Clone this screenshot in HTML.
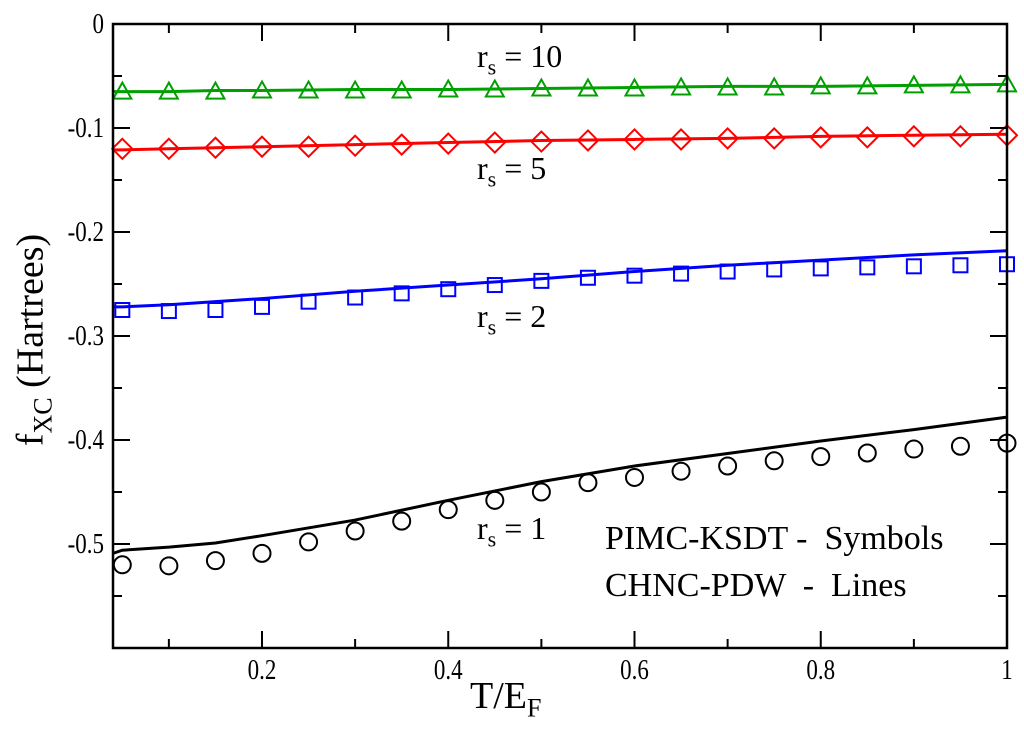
<!DOCTYPE html>
<html><head><meta charset="utf-8"><style>
html,body{margin:0;padding:0;background:#fff;}
svg{display:block;font-family:"Liberation Serif",serif;}
</style></head><body>
<svg id="chart" width="1024" height="740" viewBox="0 0 1024 740" xmlns="http://www.w3.org/2000/svg">
<g id="marks"></g>
<g id="axes"></g>
</svg>
<script>
const xs = [0.05,0.1,0.15,0.2,0.25,0.3,0.35,0.4,0.45,0.5,0.55,0.6,0.65,0.7,0.75,0.8,0.85,0.9,0.95,1.0];
const symRs10 = [-0.065,-0.065,-0.065,-0.064,-0.064,-0.064,-0.064,-0.063,-0.063,-0.062,-0.062,-0.062,-0.061,-0.061,-0.061,-0.060,-0.060,-0.059,-0.059,-0.058];
const symRs5 = [-0.120,-0.120,-0.119,-0.118,-0.118,-0.117,-0.116,-0.115,-0.114,-0.113,-0.112,-0.111,-0.111,-0.110,-0.110,-0.109,-0.109,-0.108,-0.108,-0.107];
const symRs2 = [-0.275,-0.276,-0.275,-0.272,-0.267,-0.263,-0.259,-0.255,-0.251,-0.247,-0.244,-0.242,-0.240,-0.238,-0.236,-0.235,-0.234,-0.233,-0.232,-0.231];
const symRs1 = [-0.520,-0.521,-0.516,-0.509,-0.498,-0.4875,-0.478,-0.467,-0.458,-0.450,-0.441,-0.436,-0.430,-0.425,-0.420,-0.416,-0.4125,-0.4087,-0.406,-0.403];
const lineX = [0.04,0.05,0.1,0.15,0.2,0.3,0.4,0.5,0.6,0.7,0.8,0.9,1.0];
const lineRs10 = [-0.065,-0.065,-0.065,-0.064,-0.064,-0.063,-0.063,-0.062,-0.061,-0.060,-0.060,-0.059,-0.058];
const lineRs5 = [-0.121,-0.121,-0.120,-0.119,-0.118,-0.116,-0.114,-0.112,-0.111,-0.110,-0.108,-0.107,-0.106];
const lineRs2 = [-0.272,-0.272,-0.270,-0.267,-0.264,-0.257,-0.251,-0.245,-0.238,-0.232,-0.227,-0.222,-0.218];
const lineRs1 = [-0.509,-0.506,-0.503,-0.499,-0.492,-0.477,-0.458,-0.440,-0.425,-0.413,-0.401,-0.390,-0.378];
const xTicks = [0.2,0.4,0.6,0.8,1];
const xTickLabels = ["0.2","0.4","0.6","0.8","1"];
const yTicks = [0,-0.1,-0.2,-0.3,-0.4,-0.5];
const yTickLabels = ["0","-0.1","-0.2","-0.3","-0.4","-0.5"];

const L=113,R=1007,T=24,B=648, X0=0.04,X1=1.0,Y0=-0.6,Y1=0;
const sx=v=>L+(v-X0)/(X1-X0)*(R-L);
const sy=v=>B-(v-Y0)/(Y1-Y0)*(B-T);
const NS="http://www.w3.org/2000/svg";
const marks=document.getElementById('marks'), axes=document.getElementById('axes');
function mk(tag,attrs,parent){const e=document.createElementNS(NS,tag);for(const k in attrs)e.setAttribute(k,attrs[k]);parent.appendChild(e);return e;}

const series=[
 {n:'rs10',c:'#00a000',sym:symRs10,line:lineRs10,shape:'tri'},
 {n:'rs5',c:'#ff0000',sym:symRs5,line:lineRs5,shape:'dia'},
 {n:'rs2',c:'#0000ff',sym:symRs2,line:lineRs2,shape:'sq'},
 {n:'rs1',c:'#000000',sym:symRs1,line:lineRs1,shape:'circ'}];
series.forEach(s=>{
  const p=mk('polyline',{points:lineX.map((x,i)=>sx(x)+','+sy(s.line[i])).join(' '),fill:'none',stroke:s.c,'stroke-width':3},marks);
  
  
  xs.forEach((x,i)=>{
    const cx=sx(x),cy=sy(s.sym[i]);let e;
    if(s.shape==='tri') e=mk('polygon',{points:`${cx},${cy-9} ${cx-9},${cy+7} ${cx+9},${cy+7}`,fill:'none',stroke:s.c,'stroke-width':2},marks);
    else if(s.shape==='dia') e=mk('polygon',{points:`${cx},${cy-10} ${cx+10},${cy} ${cx},${cy+10} ${cx-10},${cy}`,fill:'none',stroke:s.c,'stroke-width':2},marks);
    else if(s.shape==='sq') e=mk('rect',{x:cx-7,y:cy-7,width:14,height:14,fill:'none',stroke:s.c,'stroke-width':2},marks);
    else e=mk('circle',{cx:cx,cy:cy,r:8.5,fill:'none',stroke:s.c,'stroke-width':2},marks);
    
    
  });
});

const frame=mk('rect',{x:L,y:T,width:R-L,height:B-T,fill:'none',stroke:'#000','stroke-width':2.5},axes);


for(let k=1;k<=10;k++){
  const v=k/10, x=sx(v), len=(k%2===0)?17:9;
  mk('line',{x1:x,y1:B,x2:x,y2:B-len,stroke:'#000','stroke-width':2},axes);
  mk('line',{x1:x,y1:T,x2:x,y2:T+len,stroke:'#000','stroke-width':2},axes);
}
for(let k=1;k<12;k++){
  const v=-0.05*k, y=sy(v), len=(k%2===0)?17:9;
  mk('line',{x1:L,y1:y,x2:L+len,y2:y,stroke:'#000','stroke-width':2},axes);
  mk('line',{x1:R,y1:y,x2:R-len,y2:y,stroke:'#000','stroke-width':2},axes);
}
xTicks.forEach((v,i)=>{
  const t=mk('text',{x:0,y:0,'font-size':28,'text-anchor':'middle',transform:`translate(${sx(v)},${B+31}) scale(0.82,1)`},axes);t.textContent=xTickLabels[i];
  
  
});
yTicks.forEach((v,i)=>{
  const t=mk('text',{x:0,y:0,'font-size':28,'text-anchor':'end',transform:`translate(${L-9},${sy(v)+9}) scale(0.82,1)`},axes);t.textContent=yTickLabels[i];
  
  
});
</script>
<div style="position:absolute;left:0;top:0;width:1024px;height:740px;pointer-events:none;font-family:'Liberation Serif',serif;color:#000;line-height:1;">
 <div style="position:absolute;left:470px;top:677px;font-size:38px;white-space:nowrap;">T/E<sub style="font-size:26px;">F</sub></div>
 <div style="position:absolute;left:34px;top:340px;font-size:38px;transform:translate(-50%,-50%) rotate(-90deg);white-space:nowrap;">f<sub style="font-size:26px;">XC</sub> (Hartrees)</div>
 <div style="position:absolute;left:477px;top:40px;font-size:32px;white-space:nowrap;">r<sub style="font-size:22px;">s</sub> = 10</div>
 <div style="position:absolute;left:477px;top:152px;font-size:32px;white-space:nowrap;">r<sub style="font-size:22px;">s</sub> = 5</div>
 <div style="position:absolute;left:477px;top:300px;font-size:32px;white-space:nowrap;">r<sub style="font-size:22px;">s</sub> = 2</div>
 <div style="position:absolute;left:477px;top:512px;font-size:32px;white-space:nowrap;">r<sub style="font-size:22px;">s</sub> = 1</div>
 <div style="position:absolute;left:605px;top:522px;font-size:34px;white-space:pre;">PIMC-KSDT -  Symbols</div>
 <div style="position:absolute;left:605px;top:569px;font-size:34px;white-space:pre;">CHNC-PDW  -  Lines</div>
</div>
</body></html>
